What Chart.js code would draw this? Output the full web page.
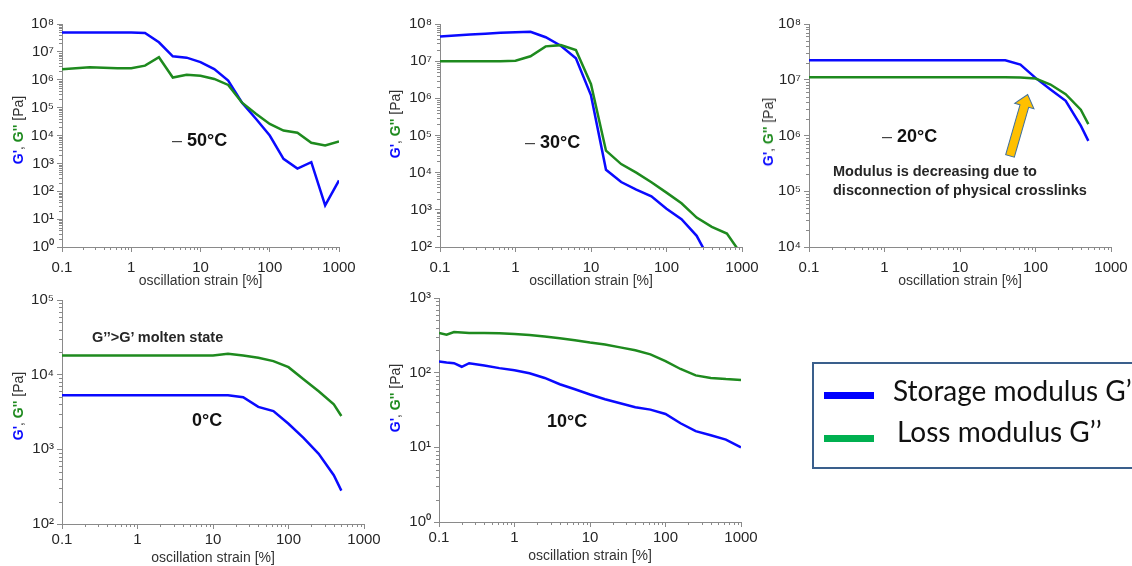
<!DOCTYPE html>
<html>
<head>
<meta charset="utf-8">
<script src="https://cdn.jsdelivr.net/npm/chart.js@4.4.1/dist/chart.umd.min.js"></script>
<style>
    html, body { margin: 0; padding: 0; background: #fff; }
    #page { position: relative; width: 1132px; height: 566px; overflow: hidden; font-family: "Liberation Sans", Arial, sans-serif; }
    #page canvas { position: absolute; }
    .ytitle { position: absolute; transform: translate(-50%, -50%) rotate(-90deg); white-space: nowrap; font-size: 14px; color: #333; }
    .gs { color: #0a0aff; font-weight: bold; }
    .gl { color: #1e8a1e; font-weight: bold; }
    .temp { position: absolute; transform: translateY(-50%); font-size: 18px; font-weight: bold; color: #111; white-space: nowrap; }
    .temp .dash { font-weight: normal; color: #444; }
    .note { position: absolute; font-size: 14.5px; font-weight: bold; color: #262626; white-space: nowrap; line-height: 19px; }
    #legend { position: absolute; left: 812px; top: 362px; width: 360px; height: 107px; box-sizing: border-box; border: 2px solid #3a5f8c; }
    .lg-line { position: absolute; left: 10px; width: 50px; height: 7px; }
    .lg-text { position: absolute; font-family: Lato, "Open Sans", sans-serif; font-size: 28px; line-height: 28px; color: #111; white-space: nowrap; }
    #arrow { position: absolute; left: 0; top: 0; }
</style>
</head>
<body>
<div id="page">
    <canvas id="c50"></canvas>
    <canvas id="c30"></canvas>
    <canvas id="c20"></canvas>
    <canvas id="c0"></canvas>
    <canvas id="c10"></canvas>

    <div class="ytitle" style="left:18px; top:130px;"><span class="gs">G'</span>, <span class="gl">G''</span> [Pa]</div>
    <div class="ytitle" style="left:395px; top:124px;"><span class="gs">G'</span>, <span class="gl">G''</span> [Pa]</div>
    <div class="ytitle" style="left:768px; top:132px;"><span class="gs">G'</span>, <span class="gl">G''</span> [Pa]</div>
    <div class="ytitle" style="left:18px; top:406px;"><span class="gs">G'</span>, <span class="gl">G''</span> [Pa]</div>
    <div class="ytitle" style="left:395px; top:398px;"><span class="gs">G'</span>, <span class="gl">G''</span> [Pa]</div>

    <div class="temp" style="left:172px; top:140px;"><span class="dash">–</span> 50°C</div>
    <div class="temp" style="left:525px; top:142px;"><span class="dash">–</span> 30°C</div>
    <div class="temp" style="left:882px; top:136px;"><span class="dash">–</span> 20°C</div>
    <div class="temp" style="left:192px; top:420px;">0°C</div>
    <div class="temp" style="left:547px; top:421px;">10°C</div>

    <div class="note" style="left:833px; top:162px;">Modulus is decreasing due to<br>disconnection of physical crosslinks</div>
    <div class="note" style="left:92px; top:328px;">G’’&gt;G’ molten state</div>

    <svg id="arrow" width="1132" height="566">
        <path d="M -4.5 0 L -4.5 -52 L -10 -52 L 0 -64 L 10 -52 L 4.5 -52 L 4.5 0 Z"
              transform="translate(1010,156) rotate(16)"
              fill="#ffc000" stroke="#41719c" stroke-width="1"/>
    </svg>

    <div id="legend">
        <div class="lg-line" style="top:28px; background:#0000ff;"></div>
        <div class="lg-line" style="top:71px; background:#00b050;"></div>
        <div class="lg-text" style="left:79px; top:12px;">Storage modulus G’</div>
        <div class="lg-text" style="left:83px; top:53px;">Loss modulus G’’</div>
    </div>
</div>

<script>
// strain sweeps, oscillation strain [%]
const strainLow = [0.1, 0.158, 0.251, 0.398, 0.631, 1, 1.58, 2.51, 3.98, 6.31, 10, 15.8, 25.1, 39.8, 63.1, 100, 158, 251, 398, 631, 1000];
const strainWarm = [0.1, 0.158, 0.251, 0.398, 0.631, 1, 1.58, 2.51, 3.98, 6.31, 10, 15.8, 25.1, 39.8, 63.1, 100, 158, 251, 398, 501];
const strain10 = [0.1, 0.126, 0.158, 0.2, 0.251, 0.398, 0.631, 1, 1.58, 2.51, 3.98, 6.31, 10, 15.8, 25.1, 39.8, 63.1, 100, 158, 251, 398, 631, 1000];

// -50 °C
const storage50 = [5.0e7, 5.0e7, 5.0e7, 5.0e7, 5.0e7, 5.0e7, 4.8e7, 2.2e7, 6.9e6, 6.2e6, 4.3e6, 2.4e6, 9.4e5, 1.5e5, 4.0e4, 1.0e4, 1450, 650, 1100, 31, 245];
const loss50 = [2.4e6, 2.6e6, 2.8e6, 2.7e6, 2.6e6, 2.6e6, 3.2e6, 6.4e6, 1.2e6, 1.5e6, 1.4e6, 1.07e6, 6.5e5, 1.5e5, 6.0e4, 2.6e4, 1.5e4, 1.25e4, 5500, 4400, 6100];

// -30 °C
const storage30 = [4.6e7, 4.9e7, 5.2e7, 5.5e7, 5.8e7, 6.0e7, 6.2e7, 4.4e7, 2.6e7, 1.2e7, 1.2e6, 1.2e4, 5600, 3500, 2300, 1070, 560, 200, 35, 10, 5];
const loss30 = [1.0e7, 1.0e7, 1.0e7, 1.0e7, 1.0e7, 1.03e7, 1.35e7, 2.5e7, 2.7e7, 2.0e7, 2.4e6, 3.9e4, 1.7e4, 1.0e4, 5500, 2900, 1500, 620, 350, 230, 60];

// -20 °C
const storage20 = [2.24e7, 2.24e7, 2.24e7, 2.24e7, 2.24e7, 2.24e7, 2.24e7, 2.24e7, 2.24e7, 2.24e7, 2.24e7, 2.24e7, 2.24e7, 2.24e7, 1.87e7, 1.08e7, 6.7e6, 4.2e6, 1.5e6, 8.0e5];
const loss20 = [1.11e7, 1.11e7, 1.11e7, 1.11e7, 1.11e7, 1.11e7, 1.11e7, 1.11e7, 1.11e7, 1.11e7, 1.11e7, 1.11e7, 1.11e7, 1.11e7, 1.1e7, 1.05e7, 8.2e6, 5.5e6, 2.9e6, 1.6e6];

// 0 °C
const storage0 = [5300, 5300, 5300, 5300, 5300, 5300, 5300, 5300, 5300, 5300, 5300, 5300, 5000, 3700, 3250, 2200, 1420, 870, 450, 280];
const loss0 = [1.8e4, 1.8e4, 1.8e4, 1.8e4, 1.8e4, 1.8e4, 1.8e4, 1.8e4, 1.8e4, 1.8e4, 1.8e4, 1.9e4, 1.8e4, 1.68e4, 1.52e4, 1.26e4, 8700, 6000, 4000, 2800];

// 10 °C
const storage10 = [141, 137, 134, 120, 134, 125, 115, 108, 98, 85, 70, 60, 51, 44, 39, 34.5, 32, 28, 21, 16.5, 14.5, 12.7, 10];
const loss10 = [340, 322, 350, 345, 340, 340, 338, 330, 320, 305, 290, 272, 253, 238, 218, 200, 176, 143, 112, 92, 85, 82, 80];

// axis labels
const strainLabels = [0.1, 1, 10, 100, 1000];
const superDigits = ['⁰', '¹', '²', '³', '⁴', '⁵', '⁶', '⁷', '⁸', '⁹'];

const storageColor = '#0a0aff';
const lossColor = '#1e8a1e';
const axisColor = '#8a8a8a';
const labelColor = '#262626';
const fontFamily = '"Liberation Sans", Arial, sans-serif';

// plot areas [left, top, right, bottom] in page pixels, plus gap under the x axis before its labels
const panels = [
    { id: 'c50', strain: strainLow, storage: storage50, loss: loss50, yMin: 1, yMax: 1e8, area: [62, 24, 339, 247], labelGap: 7 },
    { id: 'c30', strain: strainLow, storage: storage30, loss: loss30, yMin: 1e2, yMax: 1e8, area: [440, 24, 742, 247], labelGap: 7 },
    { id: 'c20', strain: strainWarm, storage: storage20, loss: loss20, yMin: 1e4, yMax: 1e8, area: [809, 24, 1111, 247], labelGap: 7 },
    { id: 'c0', strain: strainWarm, storage: storage0, loss: loss0, yMin: 1e2, yMax: 1e5, area: [62, 300, 364, 524], labelGap: 2 },
    { id: 'c10', strain: strain10, storage: storage10, loss: loss10, yMin: 1, yMax: 1e3, area: [439, 298, 741, 522], labelGap: 2 }
];

const Y_AXIS_W = 50;
const X_AXIS_H = 44;
const PAD_TOP = 12;
// room for half of the "1000" label plus its padding, so the plot width stays fixed
const PAD_RIGHT = 28;

function powerLabel(v) {
    const exp = Math.round(Math.log10(v));
    return '10' + String(exp).split('').map(d => superDigits[+d]).join('');
}

function decades(min, max) {
    const out = [];
    for (let e = Math.round(Math.log10(min)); e <= Math.round(Math.log10(max)); e++) {
        out.push(Math.pow(10, e));
    }
    return out;
}

// short minor tick marks at 2..9 of each decade
const minorTicks = {
    id: 'minorTicks',
    afterDraw(chart) {
        const ctx = chart.ctx;
        ctx.save();
        ctx.strokeStyle = axisColor;
        ctx.lineWidth = 1;
        ['x', 'y'].forEach(key => {
            const scale = chart.scales[key];
            const lo = Math.round(Math.log10(scale.min));
            const hi = Math.round(Math.log10(scale.max));
            for (let e = lo; e < hi; e++) {
                for (let m = 2; m <= 9; m++) {
                    const p = Math.round(scale.getPixelForValue(m * Math.pow(10, e))) + 0.5;
                    ctx.beginPath();
                    if (key === 'x') {
                        ctx.moveTo(p, scale.top);
                        ctx.lineTo(p, scale.top + 3);
                    } else {
                        ctx.moveTo(scale.right - 3, p);
                        ctx.lineTo(scale.right, p);
                    }
                    ctx.stroke();
                }
            }
        });
        ctx.restore();
    }
};

function toPoints(xs, ys) {
    return xs.map((x, i) => ({ x: x, y: ys[i] }));
}

function buildPanel(p) {
    const [left, top, right, bottom] = p.area;
    const canvas = document.getElementById(p.id);
    canvas.width = right - left + Y_AXIS_W + PAD_RIGHT;
    canvas.height = bottom - top + PAD_TOP + X_AXIS_H;
    canvas.style.left = (left - Y_AXIS_W) + 'px';
    canvas.style.top = (top - PAD_TOP) + 'px';

    const yMajor = decades(p.yMin, p.yMax);

    return new Chart(canvas.getContext('2d'), {
        type: 'line',
        data: {
            datasets: [
                { label: 'Loss modulus G’’', data: toPoints(p.strain, p.loss), borderColor: lossColor },
                { label: 'Storage modulus G’', data: toPoints(p.strain, p.storage), borderColor: storageColor }
            ]
        },
        options: {
            responsive: false,
            animation: false,
            layout: { padding: { left: 0, top: PAD_TOP, right: PAD_RIGHT, bottom: 0 } },
            elements: {
                point: { radius: 0 },
                line: { borderWidth: 2.5, tension: 0, fill: false }
            },
            plugins: {
                legend: { display: false },
                tooltip: { enabled: false }
            },
            scales: {
                x: {
                    type: 'logarithmic',
                    min: 0.1,
                    max: 1000,
                    afterBuildTicks: s => { s.ticks = strainLabels.map(v => ({ value: v, major: true })); },
                    afterFit: s => { s.height = X_AXIS_H; },
                    grid: { drawOnChartArea: false, tickLength: 5, tickColor: axisColor },
                    border: { color: axisColor, width: 1 },
                    ticks: {
                        autoSkip: false,
                        maxRotation: 0,
                        padding: p.labelGap,
                        color: labelColor,
                        font: { family: fontFamily, size: 15 },
                        callback: v => String(v)
                    },
                    title: {
                        display: true,
                        text: 'oscillation strain [%]',
                        color: '#333',
                        font: { family: fontFamily, size: 14 },
                        padding: { top: 0, bottom: 1 }
                    }
                },
                y: {
                    type: 'logarithmic',
                    min: p.yMin,
                    max: p.yMax,
                    afterBuildTicks: s => { s.ticks = yMajor.map(v => ({ value: v, major: true })); },
                    afterFit: s => { s.width = Y_AXIS_W; },
                    grid: { drawOnChartArea: false, tickLength: 5, tickColor: axisColor },
                    border: { color: axisColor, width: 1 },
                    ticks: {
                        autoSkip: false,
                        padding: 3,
                        color: labelColor,
                        font: { family: fontFamily, size: 15 },
                        callback: v => powerLabel(v)
                    }
                }
            }
        },
        plugins: [minorTicks]
    });
}

panels.forEach(buildPanel);
</script>
</body>
</html>
